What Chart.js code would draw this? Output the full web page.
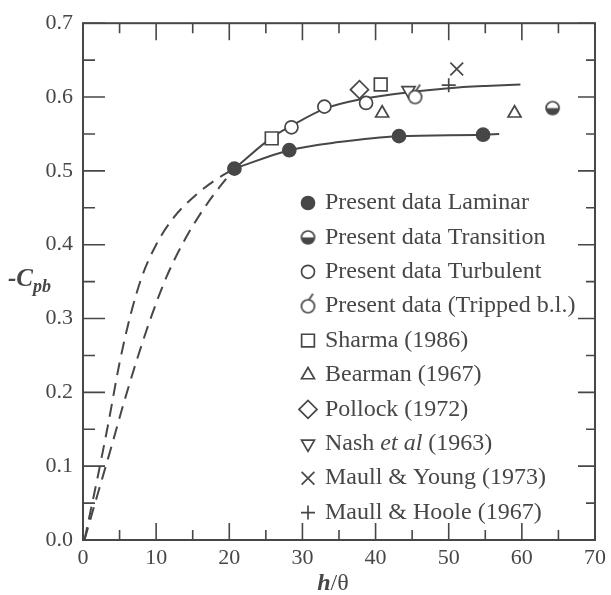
<!DOCTYPE html>
<html>
<head>
<meta charset="utf-8">
<script src="https://cdn.jsdelivr.net/npm/chart.js@4.4.1/dist/chart.umd.min.js"></script>
<style>
  html, body { margin: 0; padding: 0; background: #fff; }
  #wrap { width: 611px; height: 595px; }
</style>
</head>
<body>
<div id="wrap"><canvas id="c" width="611" height="595"></canvas></div>
<script>
// x = h/theta, y = -Cpb
const laminarX = [20.7, 28.2, 43.2, 54.7];
const laminarY = [0.503, 0.528, 0.547, 0.549];
const transitionX = [64.2];
const transitionY = [0.585];
const turbulentX = [28.5, 33.0, 38.7];
const turbulentY = [0.559, 0.587, 0.592];
const trippedX = [45.4];
const trippedY = [0.600];
const sharmaX = [25.8, 40.7];
const sharmaY = [0.544, 0.617];
const bearmanX = [40.9, 59.0];
const bearmanY = [0.578, 0.578];
const pollockX = [37.8];
const pollockY = [0.610];
const nashX = [44.5];
const nashY = [0.609];
const youngX = [51.1];
const youngY = [0.638];
const hooleX = [50.0];
const hooleY = [0.616];

// fitted curves
const turbCurveX = [20.7, 25.8, 28.5, 33.0, 38.0, 45.0, 50.0, 55.0, 59.8];
const turbCurveY = [0.503, 0.545, 0.561, 0.584, 0.597, 0.607, 0.612, 0.615, 0.617];
const lamCurveX = [20.7, 28.2, 35.0, 43.2, 54.7, 56.9];
const lamCurveY = [0.503, 0.528, 0.539, 0.547, 0.549, 0.550];
const dashOuterX = [0.2, 2.0, 3.5, 5.0, 6.5, 8.0, 10.0, 12.5, 15.5, 18.0, 20.7];
const dashOuterY = [0.0, 0.085, 0.160, 0.240, 0.305, 0.355, 0.400, 0.438, 0.468, 0.487, 0.503];
const dashInnerX = [0.2, 2.0, 3.7, 5.5, 7.3, 9.1, 11.4, 14.1, 17.3, 20.7];
const dashInnerY = [0.0, 0.062, 0.120, 0.183, 0.242, 0.296, 0.356, 0.410, 0.460, 0.503];

const xTicks = [0, 10, 20, 30, 40, 50, 60, 70];
const yTicks = [0.0, 0.1, 0.2, 0.3, 0.4, 0.5, 0.6, 0.7];

const INK = '#474747';
const FONT = 'Liberation Serif';

const pts = (xs, ys) => xs.map((x, i) => ({ x: x, y: ys[i] }));

function halfCircle(r) {
  const c = document.createElement('canvas');
  c.width = c.height = 2 * r + 4;
  const g = c.getContext('2d');
  const m = r + 2;
  g.fillStyle = '#fff';
  g.beginPath(); g.arc(m, m, r, 0, Math.PI * 2); g.fill();
  g.fillStyle = INK;
  g.beginPath(); g.arc(m, m, r, 0, Math.PI); g.closePath(); g.fill();
  g.strokeStyle = INK; g.lineWidth = 1.7;
  g.beginPath(); g.arc(m, m, r, 0, Math.PI * 2); g.stroke();
  return c;
}

// circle with the small trip flag on top, centred in its canvas
function trippedCircle(r) {
  const c = document.createElement('canvas');
  c.width = 2 * r + 8; c.height = 2 * r + 20;
  const g = c.getContext('2d');
  const mx = c.width / 2, my = c.height / 2;
  g.fillStyle = '#fff';
  g.beginPath(); g.arc(mx, my, r, 0, Math.PI * 2); g.fill();
  g.strokeStyle = INK; g.lineWidth = 1.7;
  g.beginPath(); g.arc(mx, my, r, 0, Math.PI * 2); g.stroke();
  g.beginPath(); g.moveTo(mx + 1, my - r); g.lineTo(mx + 5, my - r - 6); g.stroke();
  return c;
}

const marker = (label, data, style, extra) => Object.assign({
  label: label, data: data, pointStyle: style, order: 0,
  pointRadius: 7, pointHoverRadius: 7, pointBorderWidth: 1.7,
  pointBackgroundColor: '#fff', pointBorderColor: INK, showLine: false
}, extra || {});

const curve = (data, dash) => ({
  data: data, showLine: true, pointRadius: 0, pointHoverRadius: 0, order: 1,
  borderColor: INK, borderWidth: 2, borderDash: dash || [],
  cubicInterpolationMode: 'monotone', fill: false, isCurve: true
});

const datasets = [
  marker('Present data Laminar', pts(laminarX, laminarY), 'circle', { pointBackgroundColor: INK, pointRadius: 6.5 }),
  marker('Present data Transition', pts(transitionX, transitionY), halfCircle(6.5)),
  marker('Present data Turbulent', pts(turbulentX, turbulentY), 'circle', { pointRadius: 6.5 }),
  marker('Present data (Tripped b.l.)', pts(trippedX, trippedY), trippedCircle(6.5)),
  marker('Sharma (1986)', pts(sharmaX, sharmaY), 'rect', { pointRadius: 9 }),
  marker('Bearman (1967)', pts(bearmanX, bearmanY), 'triangle', { pointRadius: 7.5 }),
  marker('Pollock (1972)', pts(pollockX, pollockY), 'rectRot', { pointRadius: 9 }),
  marker('Nash et al (1963)', pts(nashX, nashY), 'triangle', { pointRadius: 7.5, pointRotation: 180 }),
  marker('Maull & Young (1973)', pts(youngX, youngY), 'crossRot', { pointRadius: 9 }),
  marker('Maull & Hoole (1967)', pts(hooleX, hooleY), 'cross', { pointRadius: 7 }),
  curve(pts(turbCurveX, turbCurveY)),
  curve(pts(lamCurveX, lamCurveY)),
  curve(pts(dashOuterX, dashOuterY), [13, 8]),
  curve(pts(dashInnerX, dashInnerY), [13, 8])
];

const framePlugin = {
  id: 'frame',
  afterDraw(chart) {
    const { ctx, chartArea: a, scales } = chart;
    const xs = scales.x, ys = scales.y;
    ctx.save();
    ctx.strokeStyle = INK;
    ctx.lineWidth = 2;
    ctx.strokeRect(a.left, a.top, a.right - a.left, a.bottom - a.top);
    ctx.lineWidth = 1.6;
    ctx.beginPath();
    for (let v = 0; v <= 70; v += 5) {
      const px = xs.getPixelForValue(v);
      const len = v % 10 === 0 ? 17 : 10;
      ctx.moveTo(px, a.bottom); ctx.lineTo(px, a.bottom - len);
      ctx.moveTo(px, a.top); ctx.lineTo(px, a.top + len);
    }
    for (let k = 0; k <= 14; k++) {
      const py = ys.getPixelForValue(k * 0.05);
      const major = k % 2 === 0;
      ctx.moveTo(a.left, py); ctx.lineTo(a.left + (major ? 22 : 12), py);
      ctx.moveTo(a.right, py); ctx.lineTo(a.right - (major ? 17 : 9), py);
    }
    ctx.stroke();

    // axis titles
    ctx.fillStyle = INK;
    ctx.textBaseline = 'alphabetic';
    ctx.textAlign = 'left';
    ctx.font = 'bold italic 25px ' + FONT;
    ctx.fillText('-C', 8, 286);
    const w = ctx.measureText('-C').width;
    ctx.font = 'bold italic 18px ' + FONT;
    ctx.fillText('pb', 8 + w, 292);

    ctx.font = 'bold italic 24px ' + FONT;
    const hw = ctx.measureText('h').width;
    ctx.font = '24px ' + FONT;
    const sw = ctx.measureText('/\u03b8').width;
    const sx = 333 - (hw + sw) / 2;
    ctx.font = 'bold italic 24px ' + FONT;
    ctx.fillText('h', sx, 590);
    ctx.font = '24px ' + FONT;
    ctx.fillText('/\u03b8', sx + hw, 590);

    // legend
    const lx = 308, tx = 325, ly0 = 203, step = 34.4;
    const LF = '24px ' + FONT;
    let row = 0;
    chart.data.datasets.forEach(ds => {
      if (ds.isCurve) return;
      const y = ly0 + row * step;
      ctx.fillStyle = ds.pointBackgroundColor;
      ctx.strokeStyle = ds.pointBorderColor;
      ctx.lineWidth = ds.pointBorderWidth;
      Chart.helpers.drawPoint(ctx, {
        pointStyle: ds.pointStyle, radius: ds.pointRadius,
        rotation: ds.pointRotation || 0, borderWidth: ds.pointBorderWidth
      }, lx, y);
      ctx.fillStyle = INK;
      ctx.textBaseline = 'middle';
      if (ds.label.indexOf('et al') >= 0) {
        let x = tx;
        ctx.font = LF;
        ctx.fillText('Nash ', x, y); x += ctx.measureText('Nash ').width;
        ctx.font = 'italic ' + LF;
        ctx.fillText('et al', x, y); x += ctx.measureText('et al').width;
        ctx.font = LF;
        ctx.fillText(' (1963)', x, y);
      } else {
        ctx.font = LF;
        ctx.fillText(ds.label, tx, y);
      }
      row++;
    });
    ctx.restore();
  }
};

new Chart(document.getElementById('c'), {
  type: 'scatter',
  data: { datasets: datasets },
  options: {
    responsive: false,
    animation: false,
    events: [],
    layout: { padding: { top: 17, right: 13, left: 0, bottom: 0 } },
    plugins: { legend: { display: false }, tooltip: { enabled: false } },
    scales: {
      x: {
        type: 'linear', min: 0, max: 70,
        afterFit(s) { s.height = 55; },
        afterBuildTicks(s) { s.ticks = xTicks.map(v => ({ value: v })); },
        grid: { display: false, drawTicks: false },
        border: { display: false },
        ticks: { color: INK, padding: 5, font: { family: FONT, size: 22 }, maxRotation: 0 }
      },
      y: {
        type: 'linear', min: 0, max: 0.7,
        afterFit(s) { s.width = 83; },
        afterBuildTicks(s) { s.ticks = yTicks.map(v => ({ value: v })); },
        grid: { display: false, drawTicks: false },
        border: { display: false },
        ticks: { color: INK, padding: 10, font: { family: FONT, size: 22 },
          callback: v => v.toFixed(1) }
      }
    }
  },
  plugins: [framePlugin]
});
</script>
</body>
</html>
